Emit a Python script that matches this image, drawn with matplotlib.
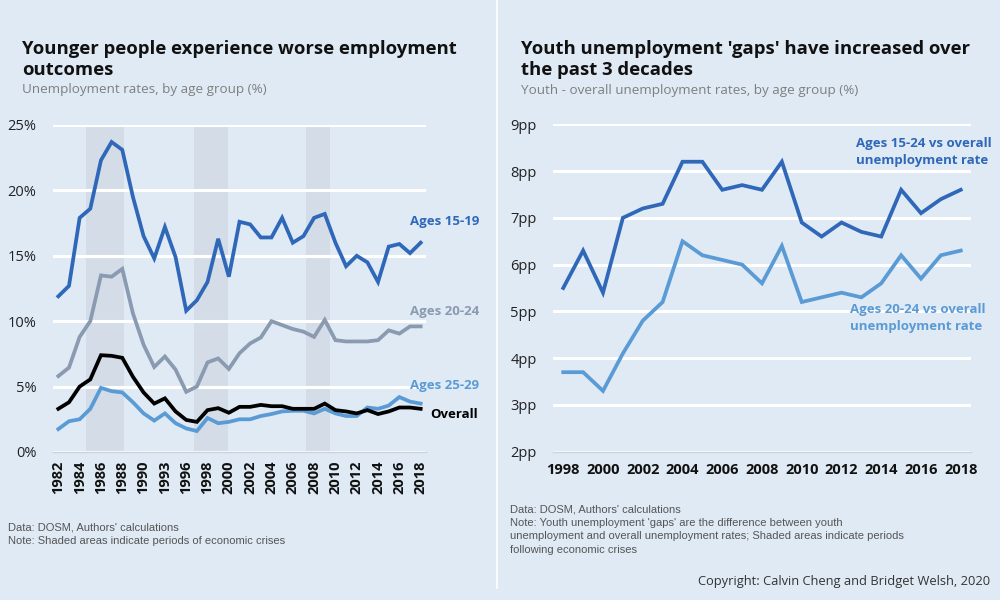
import matplotlib
matplotlib.use("Agg")
import matplotlib.pyplot as plt
from matplotlib import font_manager

# ---------------- data ----------------
years_left = ["1982", "1983", "1984", "1985", "1986", "1987", "1988", "1989", "1990",
              "1992", "1993", "1995", "1996", "1997", "1998", "1999", "2000", "2001",
              "2002", "2003", "2004", "2005", "2006", "2007", "2008", "2009", "2010",
              "2011", "2012", "2013", "2014", "2015", "2016", "2017", "2018"]
ages_15_19 = [11.9, 12.7, 17.9, 18.6, 22.3, 23.7, 23.1, 19.5, 16.5, 14.8, 17.2, 14.9,
              10.8, 11.6, 13.0, 16.3, 13.4, 17.6, 17.4, 16.4, 16.4, 17.9, 16.0, 16.5,
              17.9, 18.2, 16.0, 14.2, 15.0, 14.5, 13.0, 15.7, 15.9, 15.2, 16.0]
ages_20_24 = [5.8, 6.45, 8.8, 10.0, 13.5, 13.4, 14.0, 10.6, 8.2, 6.5, 7.3, 6.3,
              4.6, 5.0, 6.85, 7.15, 6.35, 7.55, 8.3, 8.75, 10.0, 9.7, 9.4, 9.2,
              8.8, 10.1, 8.55, 8.45, 8.45, 8.45, 8.55, 9.3, 9.05, 9.6, 9.6]
ages_25_29 = [1.75, 2.35, 2.5, 3.3, 4.9, 4.65, 4.55, 3.8, 2.95, 2.4, 2.95, 2.2,
              1.8, 1.6, 2.6, 2.2, 2.3, 2.5, 2.5, 2.75, 2.9, 3.1, 3.15, 3.15,
              2.95, 3.3, 2.95, 2.75, 2.75, 3.4, 3.3, 3.55, 4.2, 3.85, 3.7]
overall = [3.3, 3.8, 5.0, 5.55, 7.4, 7.35, 7.2, 5.75, 4.55, 3.7, 4.1, 3.1,
           2.45, 2.3, 3.2, 3.35, 3.0, 3.45, 3.45, 3.6, 3.5, 3.5, 3.3, 3.3,
           3.3, 3.7, 3.2, 3.1, 2.95, 3.2, 2.9, 3.1, 3.4, 3.4, 3.3]
# crisis shading, in category-index units
crisis_spans = [(2.6, 6.2), (12.7, 15.9), (23.2, 25.5)]

years_right = [str(y) for y in range(1998, 2019)]
gap_15_24 = [5.5, 6.3, 5.4, 7.0, 7.2, 7.3, 8.2, 8.2, 7.6, 7.7, 7.6, 8.2, 6.9,
             6.6, 6.9, 6.7, 6.6, 7.6, 7.1, 7.4, 7.6]
gap_20_24 = [3.7, 3.7, 3.3, 4.1, 4.8, 5.2, 6.5, 6.2, 6.1, 6.0, 5.6, 6.4, 5.2,
             5.3, 5.4, 5.3, 5.6, 6.2, 5.7, 6.2, 6.3]

left_yticks = [0, 5, 10, 15, 20, 25]
right_yticks = [2, 3, 4, 5, 6, 7, 8, 9]

# ---------------- style ----------------
BG = "#dfeaf5"
DARK = "#2f68b8"
GREY = "#8a9ab0"
LIGHT = "#5b9bd5"
SHADE = "#d4dde7"
AXLINE = "#c9d1da"

avail = {f.name for f in font_manager.fontManager.ttflist}
main_font = "Open Sans" if "Open Sans" in avail else "DejaVu Sans"
narrow = "Liberation Sans Narrow" if "Liberation Sans Narrow" in avail else "Liberation Sans"
plt.rcParams["font.family"] = [main_font, "DejaVu Sans"]

fig = plt.figure(figsize=(10, 6), dpi=100, facecolor=BG)

def style_axes(ax):
    ax.set_facecolor(BG)
    for s in ["top", "right", "left"]:
        ax.spines[s].set_visible(False)
    ax.spines["bottom"].set_color(AXLINE)
    ax.spines["bottom"].set_linewidth(1.0)
    ax.tick_params(axis="both", length=0)
    ax.grid(axis="y", color="white", linewidth=2.2)
    ax.set_axisbelow(True)

# ---------------- left chart ----------------
axL = fig.add_axes([0.053, 0.2467, 0.373, 0.545])
style_axes(axL)
xl = list(range(len(years_left)))
for a, b in crisis_spans:
    axL.axvspan(a, b, color=SHADE, zorder=0.5, lw=0)
axL.plot(xl, ages_15_19, color=DARK, lw=2.7, solid_joinstyle="miter", zorder=3)
axL.plot(xl, ages_20_24, color=GREY, lw=2.7, solid_joinstyle="miter", zorder=3)
axL.plot(xl, ages_25_29, color=LIGHT, lw=2.7, solid_joinstyle="miter", zorder=3)
axL.plot(xl, overall, color="black", lw=2.7, solid_joinstyle="miter", zorder=4)
axL.set_xlim(-0.5, len(years_left) - 0.5)
axL.set_ylim(0, 25)
axL.set_yticks(left_yticks)
axL.set_yticklabels([f"{v}%" for v in left_yticks], fontsize=10.5, color="#222222")
axL.set_xticks(xl[::2])
axL.set_xticklabels(years_left[::2], rotation=90, fontsize=10.5, fontweight="bold",
                    color="#111111")
axL.tick_params(axis="y", pad=12)
axL.tick_params(axis="x", pad=6)
for lbl, c, y in [("Ages 15-19", DARK, 222), ("Ages 20-24", GREY, 311),
                  ("Ages 25-29", LIGHT, 386), ("Overall", "black", 415)]:
    x = 410 if lbl != "Overall" else 430
    fig.text(x / 1000, 1 - y / 600, lbl, color=c, fontsize=9.5, fontweight="bold",
             va="center", ha="left")

# ---------------- right chart ----------------
axR = fig.add_axes([0.5533, 0.2472, 0.4174, 0.5456])
style_axes(axR)
xr = list(range(len(years_right)))
axR.plot(xr, gap_15_24, color=DARK, lw=2.7, solid_joinstyle="miter", zorder=3)
axR.plot(xr, gap_20_24, color=LIGHT, lw=2.7, solid_joinstyle="miter", zorder=3)
axR.set_xlim(-0.5, len(years_right) - 0.5)
axR.set_ylim(2, 9)
axR.set_yticks(right_yticks)
axR.set_yticklabels([f"{v}pp" for v in right_yticks], fontsize=10.5, color="#222222")
axR.set_xticks(xr[::2])
axR.set_xticklabels(years_right[::2], fontsize=10.5, fontweight="bold", color="#111111")
axR.tick_params(axis="y", pad=12)
axR.tick_params(axis="x", pad=8)
fig.text(856 / 1000, 1 - 152 / 600, "Ages 15-24 vs overall\nunemployment rate", color=DARK,
         fontsize=9.5, fontweight="bold", va="center", ha="left", linespacing=1.4)
fig.text(850 / 1000, 1 - 318 / 600, "Ages 20-24 vs overall\nunemployment rate", color=LIGHT,
         fontsize=9.5, fontweight="bold", va="center", ha="left", linespacing=1.4)

# ---------------- titles ----------------
fig.text(22 / 1000, 1 - 59.5 / 600, "Younger people experience worse employment\noutcomes",
         fontsize=13.3, fontweight="bold", color="#111111", va="center", ha="left",
         linespacing=1.28)
fig.text(22 / 1000, 1 - 90 / 600, "Unemployment rates, by age group (%)",
         fontsize=9.7, color="#7f7f7f", va="center", ha="left")
fig.text(521 / 1000, 1 - 59.5 / 600, "Youth unemployment 'gaps' have increased over\nthe past 3 decades",
         fontsize=13.3, fontweight="bold", color="#111111", va="center", ha="left",
         linespacing=1.28)
fig.text(521 / 1000, 1 - 91 / 600, "Youth - overall unemployment rates, by age group (%)",
         fontsize=9.7, color="#7f7f7f", va="center", ha="left")

# ---------------- footnotes ----------------
fig.text(8 / 1000, 1 - 534 / 600,
         "Data: DOSM, Authors' calculations\nNote: Shaded areas indicate periods of economic crises",
         family=[narrow, "DejaVu Sans"], fontsize=8.0, color="#555555", va="center",
         ha="left", linespacing=1.45)
fig.text(510 / 1000, 1 - 529.5 / 600,
         "Data: DOSM, Authors' calculations\n"
         "Note: Youth unemployment 'gaps' are the difference between youth\n"
         "unemployment and overall unemployment rates; Shaded areas indicate periods\n"
         "following economic crises",
         family=[narrow, "DejaVu Sans"], fontsize=8.0, color="#555555", va="center",
         ha="left", linespacing=1.45)
fig.text(990 / 1000, 1 - 582 / 600, "Copyright: Calvin Cheng and Bridget Welsh, 2020",
         fontsize=9.3, color="#333333", va="center", ha="right")

# divider
fig.add_artist(plt.Line2D([497 / 1000, 497 / 1000], [1 - 588 / 600, 1.0],
                          transform=fig.transFigure, color="white", lw=1.2))

fig.savefig("out.png", dpi=100, facecolor=BG)
